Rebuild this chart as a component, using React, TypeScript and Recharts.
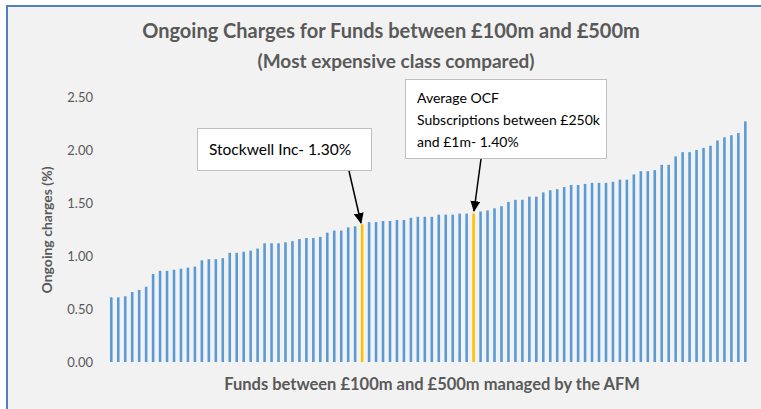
import { Bar, BarChart, Cell, XAxis, YAxis } from "recharts";

// ongoing charge (%) per fund, sorted low to high
const ocf = [
  0.61, 0.61, 0.62, 0.66, 0.68, 0.71, 0.83, 0.86, 0.86, 0.87,
  0.88, 0.89, 0.9, 0.96, 0.97, 0.97, 0.98, 1.03, 1.03, 1.04,
  1.05, 1.07, 1.12, 1.12, 1.12, 1.13, 1.14, 1.16, 1.17, 1.17,
  1.18, 1.22, 1.24, 1.24, 1.27, 1.28, 1.3, 1.32, 1.32, 1.33,
  1.33, 1.34, 1.34, 1.36, 1.37, 1.37, 1.37, 1.39, 1.39, 1.39,
  1.4, 1.4, 1.4, 1.42, 1.43, 1.45, 1.47, 1.51, 1.53, 1.53,
  1.56, 1.56, 1.6, 1.62, 1.63, 1.65, 1.67, 1.67, 1.68, 1.69,
  1.69, 1.69, 1.7, 1.72, 1.72, 1.77, 1.8, 1.8, 1.81, 1.86,
  1.86, 1.94, 1.98, 1.98, 2.0, 2.02, 2.04, 2.09, 2.12, 2.14,
  2.16, 2.27,
];

// Stockwell Inc and the average OCF bar
const highlighted = [36, 52];
const yTicks = [0, 0.5, 1, 1.5, 2, 2.5];

const data = ocf.map((v, i) => ({ fund: `Fund ${i + 1}`, ocf: v }));

const FONT = "Lato, 'Open Sans', sans-serif";
const GREY = "#595959";
const BLUE = "#5b9bd5";
const GOLD = "#ffc000";

export default function App() {
  return (
    <div
      style={{
        position: "absolute",
        left: 0,
        top: 0,
        width: 761,
        height: 409,
        background: "#ffffff",
        overflow: "hidden",
        fontFamily: FONT,
      }}
    >
      <div
        style={{
          position: "absolute",
          left: 6,
          top: 5,
          width: 800,
          height: 500,
          background: "#f2f2f2",
          border: "2px solid #4f81bd",
        }}
      />
      <div style={{ position: "absolute", left: 0, top: 0 }}>
        <BarChart
          width={761}
          height={409}
          data={data}
          margin={{ top: 97, right: 12, bottom: 47, left: 0 }}
          barCategoryGap={0}
        >
          <XAxis dataKey="fund" hide />
          <YAxis
            domain={[0, 2.5]}
            ticks={yTicks}
            width={108}
            axisLine={false}
            tickLine={false}
            tickMargin={9}
            tick={{ fill: GREY, fontSize: 13, fontFamily: FONT }}
            tickFormatter={(v: number) => v.toFixed(2)}
          />
          <Bar dataKey="ocf" barSize={2.6} isAnimationActive={false}>
            {data.map((_, i) => (
              <Cell key={i} fill={highlighted.includes(i) ? GOLD : BLUE} />
            ))}
          </Bar>
        </BarChart>
      </div>
      <svg
        width={761}
        height={409}
        style={{ position: "absolute", left: 0, top: 0, pointerEvents: "none" }}
      >
        <defs>
          <marker
            id="head"
            markerWidth="11"
            markerHeight="10"
            refX="10"
            refY="5"
            orient="auto"
            markerUnits="userSpaceOnUse"
          >
            <path d="M0,0 L11,5 L0,10 z" fill="#000" />
          </marker>
        </defs>
        <g fontFamily={FONT} fill={GREY} fontWeight={700}>
          <text x={391} y={38} textAnchor="middle" fontSize={20}>
            Ongoing Charges for Funds between £100m and £500m
          </text>
          <text x={396} y={68} textAnchor="middle" fontSize={19}>
            (Most expensive class compared)
          </text>
          <text x={432} y={390} textAnchor="middle" fontSize={16.5}>
            Funds between £100m and £500m managed by the AFM
          </text>
          <text
            transform="translate(52,230) rotate(-90)"
            textAnchor="middle"
            fontSize={14}
          >
            Ongoing charges (%)
          </text>
        </g>

        <rect x={197.5} y={128.5} width={174} height={42} fill="#fff" stroke="#bfbfbf" />
        <text x={209} y={155} fontFamily={FONT} fontSize={15.5} fill="#000">
          Stockwell Inc- 1.30%
        </text>
        <line x1={349} y1={171} x2={361} y2={223} stroke="#000" strokeWidth={1.5} markerEnd="url(#head)" />

        <rect x={405.5} y={79.5} width={201} height={79} fill="#fff" stroke="#bfbfbf" />
        <g fontFamily={FONT} fontSize={14} fill="#000">
          <text x={417} y={103}>Average OCF</text>
          <text x={417} y={125}>Subscriptions between £250k</text>
          <text x={417} y={147}>and £1m- 1.40%</text>
        </g>
        <line x1={481} y1={159} x2={474} y2={211} stroke="#000" strokeWidth={1.5} markerEnd="url(#head)" />
      </svg>
    </div>
  );
}
